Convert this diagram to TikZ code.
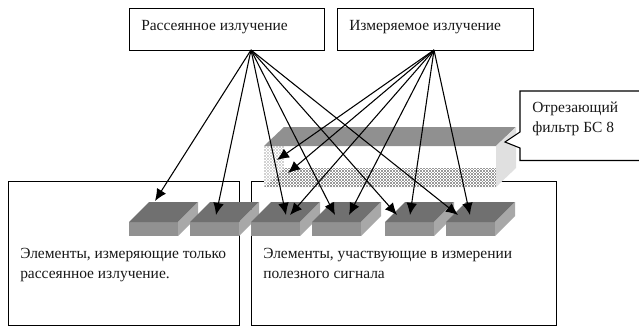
\documentclass[tikz,border=0pt]{standalone}
\usepackage{fontspec}
\setmainfont{Liberation Serif}
\usetikzlibrary{arrows.meta}
\definecolor{eltop}{HTML}{707070}
\definecolor{elfront}{HTML}{919191}
\definecolor{elside}{HTML}{A8A8A8}
\definecolor{filtop}{HTML}{909090}
\definecolor{filside}{HTML}{E0E0E0}
\definecolor{hatchc}{HTML}{999999}
\definecolor{hatchl}{HTML}{D2D2D2}
\tikzset{
  x=0.75pt,y=-0.75pt,
  box/.style={draw=black,line width=0.8pt,fill=white,minimum height=31.5pt,inner sep=0pt},
  panel/.style={draw=black,line width=0.8pt,fill=white,inner sep=0pt},
  lab/.style={anchor=base west,inner sep=0pt,font=\fontsize{11.6}{14}\selectfont,text=black!90},
  ray/.style={-{Latex[length=9pt,width=8pt]},line width=0.8pt,black},
}
\newcommand{\element}[2]{%
  \fill[elfront] (#1,222) rectangle ++(49,14);
  \fill[eltop] (#1,222) -- ++(20,-20) -- ++(49,0) -- ++(-20,20) -- cycle;
  \fill[elside] (#1+49,222) -- ++(20,-20) -- ++(0,14) -- ++(-20,20) -- cycle;
  \coordinate (#2) at (#1,222);
}
\newcommand{\hatchfill}[1]{%
  \foreach \i in {0,...,77} \foreach \j in {0,...,13} {
    \fill[#1] (264+3*\i,146+3*\j) rectangle ++(1.5,1.5);
    \fill[#1] (265.5+3*\i,147.5+3*\j) rectangle ++(1.5,1.5);
  }
}
\begin{document}
\begin{tikzpicture}
\useasboundingbox (0,0) rectangle (639,329);
\fill[white] (0,0) rectangle (639,329);
% top boxes
\node[box,minimum width=146.25pt,anchor=north west] (scat) at (129,8) {};
\node[box,minimum width=147pt,anchor=north west] (meas) at (337,8) {};
\node[lab] (scatt) at (141,30) {Рассеянное излучение};
\node[lab] (meast) at (349,30) {Измеряемое излучение};
% panels
\node[panel,minimum width=173.25pt,minimum height=108pt,anchor=north west] (lp) at (8,181) {};
\node[panel,minimum width=228.75pt,minimum height=108pt,anchor=north west] (rp) at (251,181) {};
\node[lab] (lt1) at (20,258) {Элементы, измеряющие только};
\node[lab] (lt2) at (20,278) {рассеянное излучение.};
\node[lab] (rt1) at (263,258) {Элементы, участвующие в измерении};
\node[lab] (rt2) at (263,278) {полезного сигнала};
% filter
\fill[white] (264,146) rectangle (496,187);
\begin{scope}
  \clip (264,146) -- (284,146) -- (284,168) -- (264,187) -- cycle;
  \hatchfill{hatchl}
\end{scope}
\begin{scope}
  \clip (284,168) -- (496,168) -- (496,187) -- (264,187) -- cycle;
  \hatchfill{hatchc}
\end{scope}
\fill[filtop] (264,146) -- (284,127) -- (516,127) -- (496,146) -- cycle;
\fill[filside] (496,146) -- (516,127) -- (516,168) -- (496,187) -- cycle;
% elements
\element{129}{e1}
\element{190}{e2}
\element{251}{e3}
\element{312}{e4}
\element{385}{e5}
\element{446}{e6}
% callout
\fill[white] (505,142) -- (520,132) -- (520,91) -- (639,91) -- (639,160.5) -- (520,160.5) -- (520,148) -- cycle;
\draw[line width=0.8pt] (639,91) -- (520,91) -- (520,132) -- (505,142) -- (520,148) -- (520,160.5) -- (639,160.5);
\node[lab] (c1) at (532,112) {Отрезающий};
\node[lab] (c2) at (532,132) {фильтр БС 8};
% arrow ends
\coordinate (s) at (251,50);
\coordinate (m) at (434,50);
\coordinate (a1) at (155,201);
\coordinate (a2) at (216,215);
\coordinate (a3) at (286,215);
\coordinate (a4) at (335,215);
\coordinate (a5) at (397,215);
\coordinate (a6) at (458,215);
\coordinate (b1) at (277,160);
\coordinate (b2) at (288,173);
\coordinate (b3) at (290,215);
\coordinate (b4) at (349,215);
\coordinate (b5) at (410,215);
\coordinate (b6) at (470,215);
\foreach \t in {a1,a2,a3,a4,a5,a6} \draw[ray] (s) -- (\t);
\foreach \t in {b1,b2,b3,b4,b5,b6} \draw[ray] (m) -- (\t);
\end{tikzpicture}
\end{document}
